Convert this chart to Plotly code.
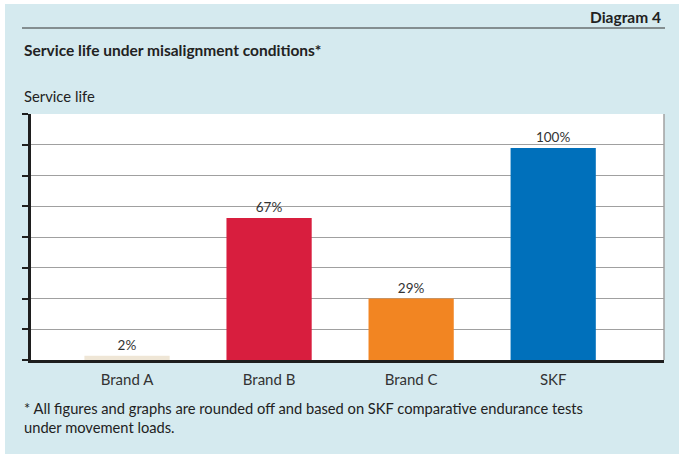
import plotly.graph_objects as go

categories = ["Brand A", "Brand B", "Brand C", "SKF"]
values = [2, 67, 29, 100]
labels = ["2%", "67%", "29%", "100%"]
colors = ["#efe6d6", "#d81e3e", "#f28522", "#0070bb"]

W, H = 684, 460
L, R, T, B = 31, 664, 114, 360  # plot area in px

def px(x):
    return (x - L) / (R - L)

def py(y):
    return (B - y) / (B - T)

FONT = "Lato"

fig = go.Figure()
fig.add_trace(go.Bar(
    x=list(range(len(categories))), y=values,
    marker=dict(color=colors, line=dict(width=0)),
    width=0.6,
    text=labels, textposition="outside",
    textfont=dict(family=FONT, size=13.5, color="#333333"),
    cliponaxis=False,
    hoverinfo="skip",
))

fig.update_layout(
    width=W, height=H,
    margin=dict(l=L, r=W - R, t=T, b=H - B, pad=0),
    paper_bgcolor="white",
    plot_bgcolor="white",
    showlegend=False,
    font=dict(family=FONT, size=13, color="#222222"),
    xaxis=dict(
        tickmode="array", tickvals=list(range(len(categories))), ticktext=categories,
        range=[-0.676, 3.78],
        showgrid=False, zeroline=False,
        showline=True, linewidth=3, linecolor="#1e1e1e",
        ticks="", tickfont=dict(family=FONT, size=15, color="#333333"),
        ticklabelstandoff=4,
    ),
    yaxis=dict(
        range=[0, 116], tick0=0, dtick=14.5,
        showgrid=True, gridcolor="#a0a0a0", gridwidth=1,
        zeroline=False,
        showline=True, linewidth=3, linecolor="#1e1e1e",
        ticks="outside", ticklen=6, tickwidth=1.5, tickcolor="#1e1e1e",
        showticklabels=False,
    ),
    shapes=[
        dict(type="rect", xref="paper", yref="paper",
             x0=px(5), x1=px(679), y0=py(454), y1=py(4),
             fillcolor="#d5eaef", line=dict(width=0), layer="below"),
        dict(type="rect", xref="paper", yref="paper",
             x0=0, x1=1, y0=0, y1=1,
             fillcolor="white", line=dict(width=0), layer="below"),
        dict(type="line", xref="paper", yref="paper",
             x0=px(22), x1=px(665), y0=py(28), y1=py(28),
             line=dict(color="#333333", width=1)),
        dict(type="line", xref="paper", yref="paper",
             x0=1, x1=1, y0=0, y1=1,
             line=dict(color="#a0a0a0", width=1.5)),
    ],
    annotations=[
        dict(text="<b>Diagram 4</b>", xref="paper", yref="paper",
             x=px(663), y=py(17), xanchor="right", yanchor="middle",
             showarrow=False, font=dict(family=FONT, size=15.5, color="#222222")),
        dict(text="<b>Service life under misalignment conditions*</b>", xref="paper", yref="paper",
             x=px(22), y=py(50), xanchor="left", yanchor="middle",
             showarrow=False, font=dict(family=FONT, size=15.5, color="#222222")),
        dict(text="Service life", xref="paper", yref="paper",
             x=px(22), y=py(96), xanchor="left", yanchor="middle",
             showarrow=False, font=dict(family=FONT, size=14.8, color="#222222")),
        dict(text="* All figures and graphs are rounded off and based on SKF comparative endurance tests<br>under movement loads.",
             xref="paper", yref="paper",
             x=px(22), y=py(417), xanchor="left", yanchor="middle", align="left",
             showarrow=False, font=dict(family=FONT, size=14.7, color="#222222")),
    ],
)

fig.write_html("out.html", config={"displayModeBar": False},
               post_script="document.body.style.margin='0';document.body.style.padding='0';")
